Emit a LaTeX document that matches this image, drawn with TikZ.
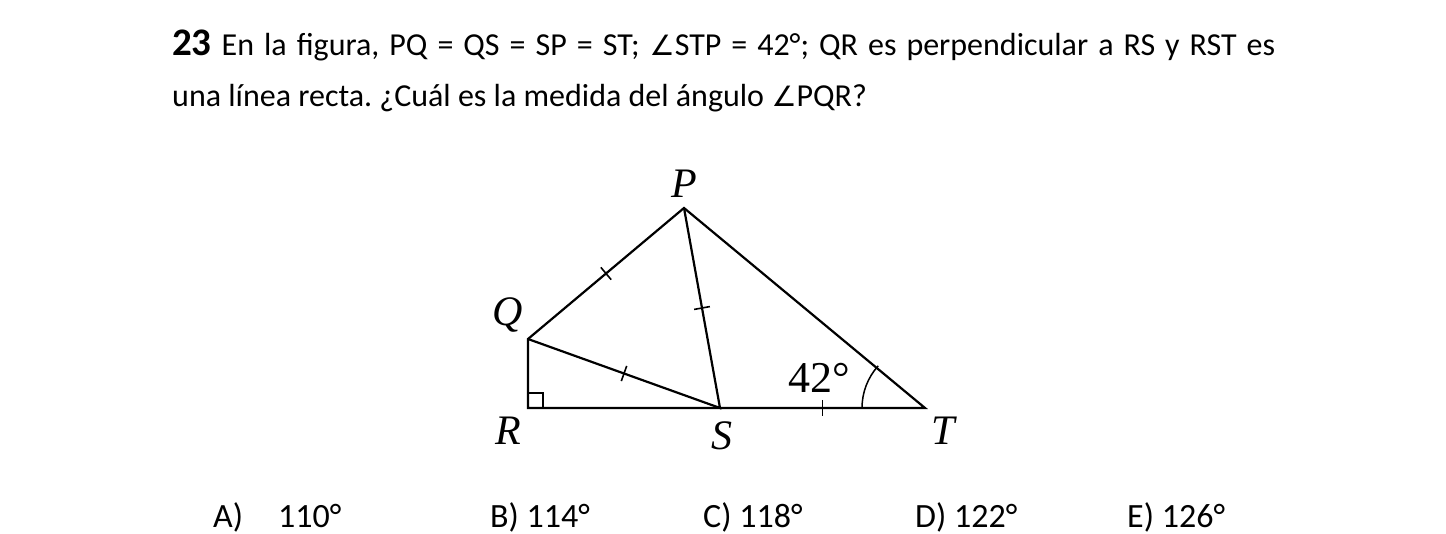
\documentclass[tikz,border=0pt]{standalone}
\usepackage{fontspec}
\setmainfont{Carlito}
\newfontfamily\symfont{DejaVu Sans}
\newfontfamily\tfont{Liberation Serif}
\usetikzlibrary{calc}
\newcommand{\angsym}{{\symfont\fontsize{28}{34}\selectfont ∠}}
\frenchspacing
\tikzset{
  txt/.style={anchor=base west, inner sep=0pt, font=\fontsize{34}{40}\selectfont},
  ttl/.style={anchor=base west, inner sep=0pt, font=\fontsize{32}{38}\selectfont},
  lbl/.style={inner sep=0pt, font=\tfont\itshape\fontsize{42}{46}\selectfont},
  seg/.style={line width=2.2pt, line join=miter},
  tick/.style={line width=1.6pt}
}
\begin{document}
\begin{tikzpicture}[x=1pt,y=-1pt]
\path[use as bounding box] (0,0) rectangle (1446,534);
% title
\node[ttl] (l1) at (172,56) {\hbox to 1103pt{{\bfseries\fontsize{39}{40}\selectfont 23} En la figura, PQ = QS = SP = ST; \angsym STP = 42°; QR es perpendicular a RS y RST es}};
\node[ttl] (l2) at (172,107) {una línea recta. ¿Cuál es la medida del ángulo \angsym PQR?};
% points
\coordinate (P) at (684,208);
\coordinate (Q) at (528,339);
\coordinate (R) at (528,408);
\coordinate (S) at (720,408);
\coordinate (T) at (925,408);
% figure
\draw[seg] (Q) -- (R) -- (T) -- (P) -- cycle;
\draw[seg] (Q) -- (S) -- (P);
% right angle
\draw[line width=1.4pt] ($(R)+(0,-15)$) -- ++(15,0) -- ++(0,15);
% ticks
\foreach \a/\b in {P/Q,Q/S,P/S,S/T}{
  \draw[tick] ($(\a)!0.5!(\b)!8pt!90:(\b)$) -- ($(\a)!0.5!(\b)!-8pt!90:(\b)$);
}
% angle arc
\draw[line width=1.5pt] ($(T)+(-63,0)$) arc[start angle=180, end angle=180+42, radius=63];
% labels
\node[lbl] (lP) at (684,184) {P};
\node[lbl] (lQ) at (508,315) {Q};
\node[lbl] (lR) at (508,431) {R};
\node[lbl] (lS) at (722,436) {S};
\node[lbl] (lT) at (943,431) {T};
\node[inner sep=0pt, anchor=base, font=\tfont\fontsize{44}{48}\selectfont] (a42) at (819,393) {42°};
% answers
\node[txt] (A) at (213,527) {A)};
\node[txt] (A1) at (278,527) {110°};
\node[txt] (B) at (490,527) {B) 114°};
\node[txt] (C) at (703,527) {C) 118°};
\node[txt] (D) at (915,527) {D) 122°};
\node[txt] (E) at (1127,527) {E) 126°};
\end{tikzpicture}
\end{document}
